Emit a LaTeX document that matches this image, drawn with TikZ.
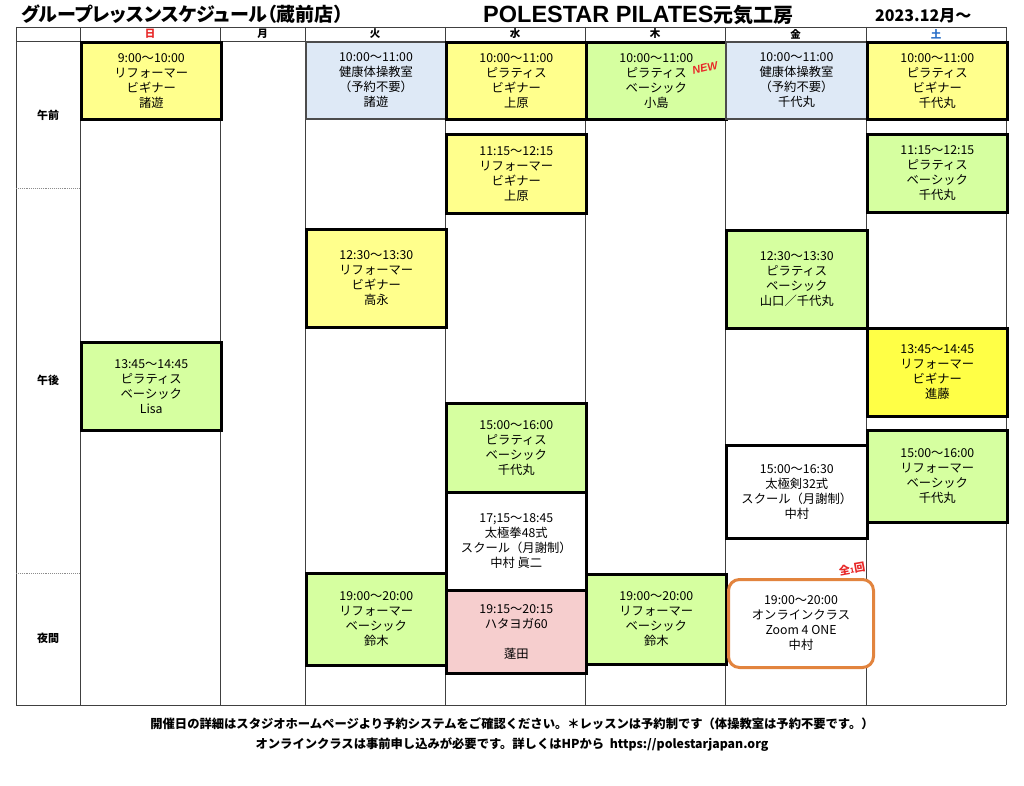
\documentclass[tikz,border=0pt]{standalone}
\usepackage{fontspec}
\setmainfont{Noto Sans CJK JP}
\newfontfamily\latinfont{Liberation Sans}
\newfontfamily\paltfont[RawFeature=+palt]{Noto Sans CJK JP}
\definecolor{ylw}{RGB}{255,255,140}
\definecolor{ylwb}{RGB}{255,255,70}
\definecolor{grn}{RGB}{214,255,160}
\definecolor{blu}{RGB}{222,233,246}
\definecolor{pnk}{RGB}{246,206,206}
\definecolor{orn}{RGB}{226,132,62}
\definecolor{sunred}{RGB}{232,40,40}
\definecolor{satblue}{RGB}{40,110,200}

\begin{document}
\begin{tikzpicture}[x=1pt,y=-1pt,
    lesson/.style={draw=black,line width=2.6pt,anchor=north west,minimum width=140pt,inner sep=0pt,align=center,font=\fontsize{12.3}{15}\selectfont},
    gridline/.style={draw=black!75,line width=0.9pt},
    daylabel/.style={font=\fontsize{10.5}{10.5}\selectfont\bfseries},
    rowlabel/.style={font=\fontsize{11}{11}\selectfont\bfseries},
    footnote/.style={font=\fontsize{12.3}{12.3}\selectfont\bfseries}]
    \useasboundingbox[fill=white] (0,0) rectangle (1024,786);
    % titles
    \node[anchor=west,inner sep=0pt,font=\paltfont\fontsize{19}{19}\selectfont\bfseries] (title) at (21,14) {グループレッスンスケジュール（蔵前店）};
    \node[anchor=west,inner sep=0pt,font=\bfseries] (studio) at (483,15) {\latinfont\fontsize{23.5}{23.5}\selectfont POLESTAR PILATES\fontsize{20}{20}\selectfont\rmfamily 元気工房};
    \node[anchor=west,inner sep=0pt,font=\fontsize{16}{16}\selectfont\bfseries] (month) at (875,16) {2023.12月～};
    % grid
    \draw[gridline] (16,27) -- (1006,27) (16,41) -- (1006,41) (16,705) -- (1006,705);
    \draw[gridline] (16,27) -- (16,705) (80,27) -- (80,705) (220,27) -- (220,705) (305,27) -- (305,705) (445,27) -- (445,705) (585,27) -- (585,705) (725,27) -- (725,705) (866,27) -- (866,705) (1006,27) -- (1006,705);
    \draw[black!45,densely dotted,line width=0.9pt] (16,188) -- (80,188) (16,573) -- (80,573);
    % days
    \node[daylabel,text=sunred] (sun) at (150,34) {日};
    \node[daylabel] (mon) at (262.5,34) {月};
    \node[daylabel] (tue) at (375,34) {火};
    \node[daylabel] (wed) at (515,34) {水};
    \node[daylabel] (thu) at (655,34) {木};
    \node[daylabel] (fri) at (795.5,34) {金};
    \node[daylabel,text=satblue] (sat) at (936,34) {土};
    \node[rowlabel] (am) at (48,115) {午前};
    \node[rowlabel] (pm) at (48,380) {午後};
    \node[rowlabel] (night) at (48,638) {夜間};
    % sunday
    \node[lesson,fill=ylw,minimum height=77pt] (sunA) at (80,41) {9:00～10:00\\リフォーマー\\ビギナー\\諸遊};
    \node[lesson,fill=grn,minimum height=88pt] (sunB) at (80,341) {13:45～14:45\\ピラティス\\ベーシック\\Lisa};
    % tuesday
    \node[lesson,fill=blu,draw=black!70,line width=2pt,minimum height=77pt] (tueA) at (305,41) {10:00～11:00\\健康体操教室\\（予約不要）\\諸遊};
    \node[lesson,fill=ylw,minimum height=98pt] (tueB) at (305,228) {12:30～13:30\\リフォーマー\\ビギナー\\高永};
    \node[lesson,fill=grn,minimum height=92pt] (tueC) at (305,572) {19:00～20:00\\リフォーマー\\ベーシック\\鈴木};
    % wednesday
    \node[lesson,fill=ylw,minimum height=77pt] (wedA) at (445,41) {10:00～11:00\\ピラティス\\ビギナー\\上原};
    \node[lesson,fill=ylw,minimum height=79pt] (wedB) at (445,133) {11:15～12:15\\リフォーマー\\ビギナー\\上原};
    \node[lesson,fill=grn,minimum height=89pt] (wedC) at (445,402) {15:00～16:00\\ピラティス\\ベーシック\\千代丸};
    \node[lesson,fill=white,minimum height=98pt] (wedD) at (445,491) {17;15～18:45\\太極拳48式\\スクール（月謝制）\\中村 眞二};
    \node[lesson,fill=pnk,minimum height=83pt] (wedE) at (445,589) {19:15～20:15\\ハタヨガ60\\[15pt]蓬田};
    % thursday
    \node[lesson,fill=grn,minimum height=77pt] (thuA) at (585,41) {10:00～11:00\\ピラティス\\ベーシック\\小島};
    \node[lesson,fill=grn,minimum height=90pt] (thuB) at (585,573) {19:00～20:00\\リフォーマー\\ベーシック\\鈴木};
    \node[rotate=14,text=sunred,inner sep=0pt,font=\latinfont\fontsize{11}{11}\selectfont\bfseries\itshape] (newtag) at (705,68) {NEW};
    % friday
    \node[lesson,fill=blu,draw=black!70,line width=2pt,minimum width=141pt,minimum height=77pt] (friA) at (725,41) {10:00～11:00\\健康体操教室\\（予約不要）\\千代丸};
    \node[lesson,fill=grn,minimum width=141pt,minimum height=98pt] (friB) at (725,229) {12:30～13:30\\ピラティス\\ベーシック\\山口／千代丸};
    \node[lesson,fill=white,minimum width=141pt,minimum height=93pt] (friC) at (725,444) {15:00～16:30\\太極剣32式\\スクール（月謝制）\\中村};
    \node[lesson,fill=white,draw=orn,line width=3pt,rounded corners=11pt,minimum width=145pt,minimum height=88pt] (friD) at (727,578) {19:00～20:00\\オンラインクラス\\Zoom 4 ONE\\中村};
    \node[rotate=10,text=sunred,inner sep=0pt,font=\fontsize{11}{11}\selectfont\bfseries] (allonce) at (852,569) {全{\fontsize{7}{7}\selectfont 1}回};
    % saturday
    \node[lesson,fill=ylw,minimum height=77pt] (satA) at (866,41) {10:00～11:00\\ピラティス\\ビギナー\\千代丸};
    \node[lesson,fill=grn,minimum height=78pt] (satB) at (866,133) {11:15～12:15\\ピラティス\\ベーシック\\千代丸};
    \node[lesson,fill=ylwb,minimum height=88pt] (satC) at (866,327) {13:45～14:45\\リフォーマー\\ビギナー\\進藤};
    \node[lesson,fill=grn,minimum height=92pt] (satD) at (866,429) {15:00～16:00\\リフォーマー\\ベーシック\\千代丸};
    % notes
    \node[footnote] (noteA) at (512,724) {開催日の詳細はスタジオホームページより予約システムをご確認ください。＊レッスンは予約制です（体操教室は予約不要です。）};
    \node[footnote] (noteB) at (512,745) {オンラインクラスは事前申し込みが必要です。詳しくはHPから\ \ https://polestarjapan.org};
\end{tikzpicture}
\end{document}
